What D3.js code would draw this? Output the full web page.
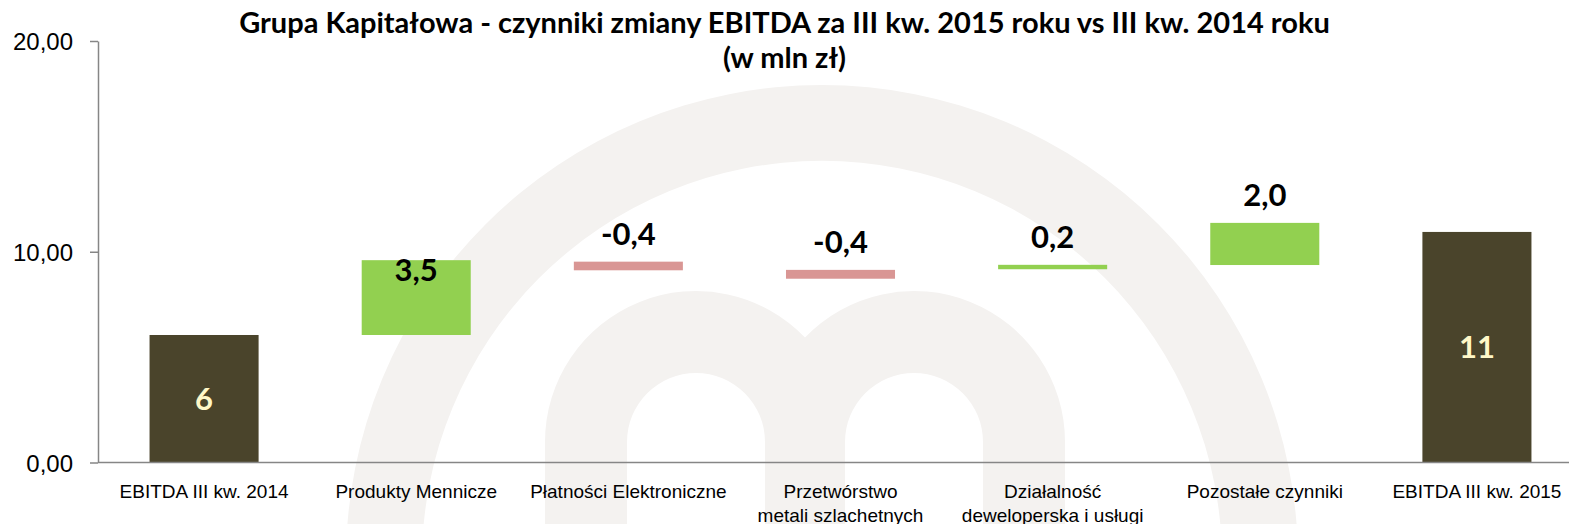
<!DOCTYPE html>
<html>
<head>
<meta charset="utf-8">
<script src="https://cdn.jsdelivr.net/npm/d3@7"></script>
<style>
  body { margin: 0; background: #fff; }
  svg { display: block; font-family: Lato, "Open Sans", sans-serif; }
</style>
</head>
<body>
<div id="chart"></div>
<script>
// x categories ("\n" marks the line break of the original labels)
const categories = [
    "EBITDA III kw. 2014",
    "Produkty Mennicze",
    "Płatności Elektroniczne",
    "Przetwórstwo\nmetali szlachetnych",
    "Działalność\ndeweloperska i usługi",
    "Pozostałe czynniki",
    "EBITDA III kw. 2015"
];
// invisible base under each floating bar
const baseValues = [0, 6.05, 9.12, 8.72, 9.17, 9.37, 0];
// visible part of each bar
const barValues = [6.05, 3.55, 0.41, 0.42, 0.21, 2.0, 10.94];
const barKinds = ["total", "up", "down", "down", "up", "up", "total"];
const valueLabels = ["6", "3,5", "-0,4", "-0,4", "0,2", "2,0", "11"];
const labelPlacement = ["center", "inside", "above", "above", "above", "above", "center"];
const yTicks = [0, 10, 20];

const width = 1569, height = 524;
const margin = { top: 41, right: -14, bottom: 61.5, left: 98 };

const svg = d3.select("#chart")
    .append("svg")
    .attr("width", width)
    .attr("height", height);

// faded company logo in the background
const wm = svg.append("g").attr("fill", "#f4f2f0").attr("fill-rule", "evenodd");
const ring = d3.path();
ring.arc(822, 561, 476, 0, 2 * Math.PI);
ring.moveTo(822 + 400, 561);
ring.arc(822, 561, 400, 0, 2 * Math.PI);
wm.append("path").attr("d", ring.toString());
wm.append("path").attr("d",
    "M545,530 L545,442 A151,151 0 0 1 805,337.5 A151,151 0 0 1 1065,442 L1065,530 Z" +
    "M627,530 L627,442 A69,69 0 0 1 765,442 L765,530 Z" +
    "M845,530 L845,442 A69,69 0 0 1 983,442 L983,530 Z");

const x = d3.scaleBand()
    .domain(categories)
    .range([margin.left, width - margin.right])
    .paddingInner(0.486)
    .paddingOuter(0.243);

const y = d3.scaleLinear()
    .domain([0, 20])
    .range([height - margin.bottom, margin.top]);

const colors = { total: "#4a442b", up: "#92d050", down: "#d99694" };

// y axis
const yAxis = svg.append("g")
    .attr("transform", `translate(${margin.left},0)`)
    .call(d3.axisLeft(y).tickValues(yTicks).tickSize(8).tickSizeOuter(0).tickPadding(17)
        .tickFormat((d) => d3.format(".2f")(d).replace(".", ",")));
yAxis.select(".domain").attr("stroke", "#868686").attr("stroke-width", 1.5);
yAxis.selectAll(".tick line").attr("stroke", "#868686").attr("stroke-width", 1.5);
yAxis.selectAll(".tick text").attr("fill", "#000").style("font-size", "24px").attr("dy", "0.36em");

// bars
const rows = categories.map((c, i) => ({
    cat: c, base: baseValues[i], value: barValues[i], kind: barKinds[i],
    label: valueLabels[i], place: labelPlacement[i]
}));

svg.selectAll(".bar")
    .data(rows)
    .enter()
    .append("rect")
    .attr("class", "bar")
    .attr("x", (d) => x(d.cat))
    .attr("width", x.bandwidth())
    .attr("y", (d) => y(d.base + d.value))
    .attr("height", (d) => y(d.base) - y(d.base + d.value))
    .attr("fill", (d) => colors[d.kind]);

// x axis line and category labels
const xAxis = svg.append("g")
    .attr("transform", `translate(0,${y(0)})`)
    .call(d3.axisBottom(x).tickSize(0).tickSizeOuter(0).tickFormat(""));
xAxis.select(".domain").attr("stroke", "#868686").attr("stroke-width", 1.5)
    .attr("d", `M${margin.left},0H${width}`);
xAxis.selectAll(".tick").each(function (d) {
    const t = d3.select(this).append("text")
        .attr("fill", "#000")
        .attr("text-anchor", "middle")
        .style("font-size", "19px");
    d.split("\n").forEach((line, k) => {
        t.append("tspan").attr("x", 0).attr("y", 35.5 + k * 24).text(line);
    });
});

// value labels
svg.selectAll(".value")
    .data(rows)
    .enter()
    .append("text")
    .attr("class", "value")
    .attr("x", (d) => x(d.cat) + x.bandwidth() / 2)
    .attr("y", (d) => {
        const top = y(d.base + d.value);
        let mid;
        if (d.place === "center") mid = (top + y(d.base)) / 2;
        else if (d.place === "inside") mid = top + 10;
        else mid = top - 28;
        return mid + 11;
    })
    .attr("text-anchor", "middle")
    .attr("fill", (d) => d.kind === "total" ? "#fff8c8" : "#000")
    .style("font-size", "31px")
    .style("font-weight", "bold")
    .text((d) => d.label);

// title
const title = svg.append("text")
    .attr("x", width / 2)
    .attr("text-anchor", "middle")
    .attr("fill", "#000")
    .style("font-size", "29px")
    .style("font-weight", "bold");
title.append("tspan").attr("x", width / 2).attr("y", 33)
    .text("Grupa Kapitałowa - czynniki zmiany EBITDA za III kw. 2015 roku vs III kw. 2014 roku");
title.append("tspan").attr("x", width / 2).attr("y", 68)
    .text("(w mln zł)");
</script>
</body>
</html>
